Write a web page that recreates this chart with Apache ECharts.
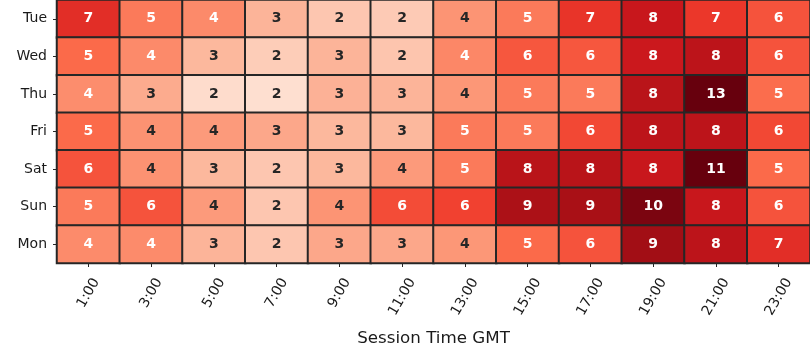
<!DOCTYPE html>
<html>
<head>
<meta charset="utf-8">
<script src="https://cdn.jsdelivr.net/npm/echarts@6/dist/echarts.min.js"></script>
<style>
  html, body { margin: 0; padding: 0; background: #ffffff; }
  #chart { width: 810px; height: 360px; }
</style>
</head>
<body>
<div id="chart"></div>
<script>
// Hours (x categories) and days (y categories, top to bottom)
const hours = ['1:00', '3:00', '5:00', '7:00', '9:00', '11:00', '13:00', '15:00', '17:00', '19:00', '21:00', '23:00'];
const days = ['Tue', 'Wed', 'Thu', 'Fri', 'Sat', 'Sun', 'Mon'];

// Cell values (annotations show them rounded)
const tue = [7.07, 4.85, 4.34, 3.03, 2.45, 2.32, 4.04, 4.85, 6.87, 7.98, 6.76, 5.96];
const wed = [5.35, 4.34, 2.93, 2.22, 3.03, 2.49, 4.44, 5.86, 5.86, 7.88, 8.38, 5.96];
const thu = [4.24, 3.33, 1.71, 1.61, 3.13, 3.03, 3.94, 4.85, 4.85, 8.48, 12.8, 5.25];
const fri = [5.35, 4.08, 3.84, 3.43, 2.93, 2.93, 4.85, 4.85, 6.26, 8.38, 8.38, 6.26];
const sat = [5.96, 4.08, 2.93, 2.45, 2.93, 3.84, 4.85, 8.48, 8.48, 7.98, 11.1, 5.35];
const sun = [4.85, 5.96, 3.84, 2.45, 4.04, 6.16, 6.45, 8.89, 8.99, 10.0, 7.98, 5.96];
const mon = [4.30, 4.30, 3.03, 2.45, 3.43, 3.43, 3.94, 5.35, 5.96, 9.19, 8.38, 7.07];

const rows = [tue, wed, thu, fri, sat, sun, mon];

// Colour scale limits (robust range) and Reds palette
const scaleMin = 0.3;
const scaleMax = 10.4;
const reds = ['#fff5f0', '#fee0d2', '#fcbba1', '#fc9272', '#fb6a4a', '#ef3b2c', '#cb181d', '#a50f15', '#67000d'];
const textThreshold = 4.17;

const data = [];
rows.forEach(function (row, yi) {
  row.forEach(function (v, xi) {
    data.push({
      value: [xi, yi, v],
      label: { color: v > textThreshold ? '#ffffff' : '#262626' }
    });
  });
});

const chart = echarts.init(document.getElementById('chart'), null, { renderer: 'canvas' });
const font = 'DejaVu Sans';

chart.setOption({
  animation: false,
  backgroundColor: '#ffffff',
  grid: { left: 57, right: 0, top: 0, height: 263, containLabel: false },
  xAxis: {
    type: 'category',
    data: hours,
    name: 'Session Time GMT',
    nameLocation: 'middle',
    nameGap: 67,
    nameTextStyle: { fontFamily: font, fontSize: 16.7, color: '#1a1a1a' },
    axisLine: { show: false },
    axisTick: { show: true, alignWithLabel: true, length: 4, lineStyle: { color: '#262626', width: 1 } },
    axisLabel: {
      rotate: 60,
      align: 'center',
      verticalAlign: 'middle',
      margin: 30,
      fontFamily: font,
      fontSize: 14,
      color: '#1a1a1a',
      interval: 0,
      formatter: function (v) {
        return v.length > 4 ? '{l|' + v + '}' : '{s|' + v + '}';
      },
      rich: {
        s: { fontFamily: font, fontSize: 14, color: '#1a1a1a' },
        l: { fontFamily: font, fontSize: 14, color: '#1a1a1a', padding: [4, 7, 0, 0] }
      }
    },
    splitLine: { show: false }
  },
  yAxis: {
    type: 'category',
    data: days,
    inverse: true,
    axisLine: { show: false },
    axisTick: { show: true, alignWithLabel: true, length: 4, lineStyle: { color: '#262626', width: 1 } },
    axisLabel: { margin: 10, fontFamily: font, fontSize: 14, color: '#1a1a1a', interval: 0 },
    splitLine: { show: false }
  },
  visualMap: {
    show: false,
    type: 'continuous',
    min: scaleMin,
    max: scaleMax,
    dimension: 2,
    inRange: { color: reds }
  },
  series: [{
    type: 'heatmap',
    data: data,
    itemStyle: { borderColor: '#262626', borderWidth: 2 },
    emphasis: { disabled: true },
    label: {
      show: true,
      fontFamily: font,
      fontWeight: 'bold',
      fontSize: 14,
      formatter: function (p) { return String(Math.round(p.value[2])); }
    }
  }]
});
</script>
</body>
</html>
